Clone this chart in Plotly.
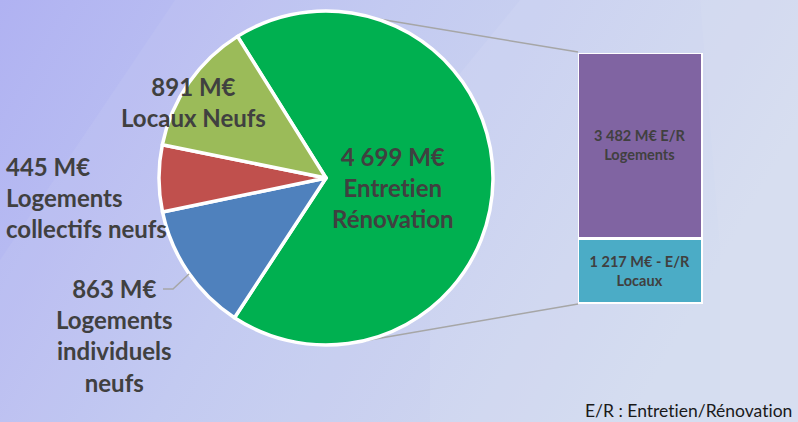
import base64
import plotly.graph_objects as go

W, H = 798, 422

# ---- data ----
pie_values = [4699, 863, 445, 891]
pie_names = ["Entret\u200cien<br>Rénovation", "Logements<br>individuels<br>neufs",
             "Logements<br>collectifs neufs", "Locaux Neufs"]
pie_colors = ["#00b050", "#4f81bd", "#c0504d", "#9bbb59"]

bar_values = [1217, 3482]          # bottom -> top
bar_names = ["- E/R<br>Locaux", "E/R<br>Logements"]
bar_colors = ["#4bacc6", "#8064a2"]

footnote = "E/R : Entret\u200cien/Rénovat\u200cion"


def fmt(v):
    return f"{v:,}".replace(",", " ") + " M€"


def px(x, y):
    return x / W, 1 - y / H


fig = go.Figure()

# pie
fig.add_trace(go.Pie(
    values=pie_values, labels=pie_names, sort=False, direction="clockwise",
    rotation=-32, marker=dict(colors=pie_colors, line=dict(color="white", width=3.5)),
    textinfo="none", hoverinfo="label+value", showlegend=False,
    domain=dict(x=[159 / W, 493 / W], y=[1 - 345 / H, 1 - 11 / H]),
))

# stacked bar
for v, n, c in zip(bar_values, bar_names, bar_colors):
    fig.add_trace(go.Bar(
        x=[0], y=[v], width=[1], marker=dict(color=c, line=dict(color="white", width=3.5)),
        text=[fmt(v) + " " + n], textposition="inside", insidetextanchor="middle",
        constraintext="none", textangle=0,
        textfont=dict(family="Lato", size=14.5, color="#404040", weight="bold"),
        showlegend=False, xaxis="x", yaxis="y",
    ))

bgsvg = f'''<svg xmlns="http://www.w3.org/2000/svg" width="{W}" height="{H}" viewBox="0 0 {W} {H}">
<defs><linearGradient id="g" x1="0" y1="0" x2="1" y2="0.3">
<stop offset="0" stop-color="#b0b2f2"/><stop offset="0.45" stop-color="#c0c7f1"/>
<stop offset="1" stop-color="#d0d9ee"/></linearGradient></defs>
<rect width="{W}" height="{H}" fill="url(#g)"/>
<polygon points="175,0 {W},0 {W},{H} 0,{H} 0,260" fill="#ffffff" opacity="0.06"/>
<polygon points="520,0 {W},0 {W},{H} 430,{H} 430,110" fill="#ffffff" opacity="0.07"/>
<polygon points="700,0 {W},0 {W},{H} 720,{H} 720,250" fill="#ffffff" opacity="0.05"/>
</svg>'''
src = "data:image/svg+xml;base64," + base64.b64encode(bgsvg.encode()).decode()

anns = []
lab = dict(family="Lato", size=24, color="#404040", weight="bold")


def add(text, x, y, font, xanchor="center", align="center"):
    xx, yy = px(x, y)
    anns.append(dict(text=text, x=xx, y=yy, xref="paper", yref="paper", showarrow=False,
                     font=font, xanchor=xanchor, yanchor="middle", align=align))


add(fmt(pie_values[0]) + "<br>" + pie_names[0], 393, 187, lab)
add(fmt(pie_values[3]) + "<br>" + pie_names[3], 193, 102, lab)
add(fmt(pie_values[2]) + "<br>" + pie_names[2], 4, 197, lab, xanchor="left", align="left")
add(fmt(pie_values[1]) + "<br>" + pie_names[1], 114, 335, lab)
add(footnote, 794, 410, dict(family="Lato", size=17.5, color="#1a1a1a"), xanchor="right")

line = dict(color="#a6a6a6", width=1.5)
shapes = []
for (x0, y0), (x1, y1) in [((379, 19), (578, 52)), ((352, 343), (578, 304))]:
    a, b = px(x0, y0)
    c, d = px(x1, y1)
    shapes.append(dict(type="line", xref="paper", yref="paper", x0=a, y0=b, x1=c, y1=d, line=line, layer="below"))
pts = [px(163, 289), px(173, 289), px(189, 274)]
shapes.append(dict(type="path", xref="paper", yref="paper",
                   path="M {} {} L {} {} L {} {}".format(*[v for p in pts for v in p]), line=line))

fig.update_layout(
    width=W, height=H, margin=dict(l=0, r=0, t=0, b=0),
    paper_bgcolor="#c0c6f1", plot_bgcolor="rgba(0,0,0,0)",
    barmode="stack", bargap=0,
    xaxis=dict(domain=[578 / W, 703 / W], range=[-0.5, 0.5], visible=False, fixedrange=True),
    yaxis=dict(domain=[1 - 304 / H, 1 - 53 / H], range=[0, sum(bar_values)], visible=False, fixedrange=True),
    annotations=anns, shapes=shapes,
    images=[dict(source=src, xref="paper", yref="paper", x=0, y=1, sizex=1, sizey=1,
                 sizing="stretch", layer="below", xanchor="left", yanchor="top")],
)

fig.write_html("out.html", config={"displayModeBar": False},
               post_script="document.body.style.margin='0';document.body.style.padding='0';")
